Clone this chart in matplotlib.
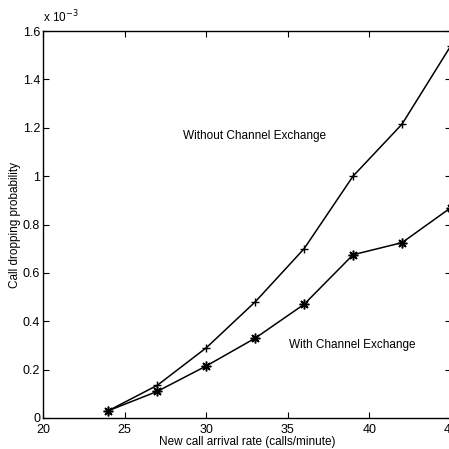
import matplotlib
matplotlib.use('Agg')
import matplotlib.pyplot as plt

# Call dropping probability (x 1e-3) vs new call arrival rate
arrival_rate = [24, 27, 30, 33, 36, 39, 42, 45]
without_exchange = [0.03, 0.135, 0.29, 0.48, 0.70, 1.00, 1.215, 1.54]
with_exchange = [0.03, 0.11, 0.215, 0.33, 0.47, 0.675, 0.725, 0.87]

x_ticks = [20, 25, 30, 35, 40, 45]
y_ticks = [0, 0.2, 0.4, 0.6, 0.8, 1.0, 1.2, 1.4, 1.6]
y_tick_labels = ['0', '0.2', '0.4', '0.6', '0.8', '1', '1.2', '1.4', '1.6']

plt.rcParams['font.family'] = ['Liberation Sans', 'DejaVu Sans']
plt.rcParams['font.size'] = 8.5

fig = plt.figure(figsize=(4.49, 4.49), dpi=100)
ax = fig.add_axes([43 / 449, 31 / 449, 408 / 449, 387 / 449])

ax.plot(arrival_rate, without_exchange, color='black', linewidth=1.1,
        marker='+', markersize=6, markeredgewidth=1.0)
ax.plot(arrival_rate, with_exchange, color='black', linewidth=1.1,
        marker=(8, 2, 0), markersize=7, markeredgewidth=1.1)

ax.set_xlim(20, 45)
ax.set_ylim(0, 1.6)
ax.set_xticks(x_ticks)
ax.set_yticks(y_ticks)
ax.set_yticklabels(y_tick_labels)
ax.tick_params(direction='in', top=True, right=True, length=4, width=0.8,
               labelsize=9, pad=2)
ax.tick_params(axis='x', pad=4)
for spine in ax.spines.values():
    spine.set_linewidth(1.0)

ax.set_xlabel('New call arrival rate (calls/minute)', fontsize=8.5, labelpad=0)
ax.set_ylabel('Call dropping probability', fontsize=8.5, labelpad=1)

ax.text(20, 1.625, r'x 10$^{-3}$', fontsize=8.5, ha='left', va='bottom')

ax.text(28.6, 1.165, 'Without Channel Exchange', fontsize=8.5, ha='left', va='center')
ax.text(35.1, 0.30, 'With Channel Exchange', fontsize=8.5, ha='left', va='center')

fig.savefig('out.png', dpi=100)
